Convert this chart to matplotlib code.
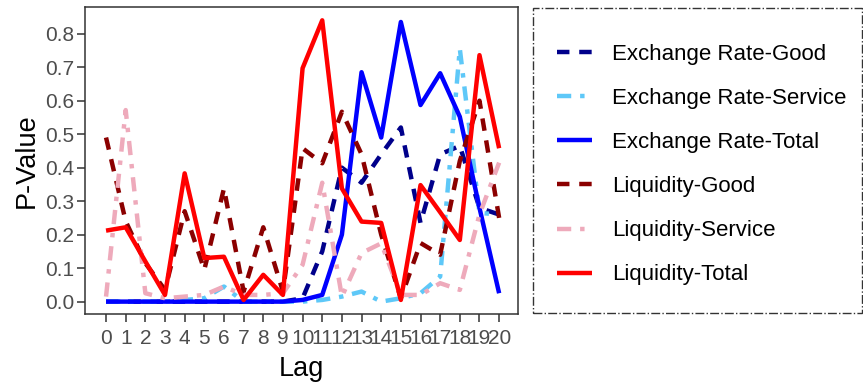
import matplotlib
matplotlib.use("Agg")
import matplotlib.pyplot as plt
from matplotlib.patches import Rectangle
import numpy as np

plt.rcParams['font.family'] = ['Liberation Sans', 'DejaVu Sans']

# values
lag = list(range(21))
er_good = [0, 0, 0, 0, 0, 0, 0, 0, 0, 0, 0.01, 0.15, 0.40, 0.355, 0.44, 0.52, 0.235, 0.44, 0.465, 0.28, 0.26]
er_service = [0, 0, 0, 0, 0.005, 0.01, 0.045, 0, 0, 0, 0, 0.005, 0.015, 0.03, 0, 0.01, 0.025, 0.075, 0.755, 0.265, 0.26]
er_total = [0, 0, 0, 0, 0, 0, 0, 0, 0, 0, 0.005, 0.02, 0.20, 0.685, 0.49, 0.835, 0.587, 0.682, 0.552, 0.28, 0.025]
liq_good = [0.49, 0.24, 0.115, 0.035, 0.27, 0.095, 0.338, 0.03, 0.222, 0.03, 0.458, 0.413, 0.567, 0.44, 0.20, 0.01, 0.175, 0.14, 0.42, 0.60, 0.25]
liq_service = [0.015, 0.572, 0.025, 0.01, 0.015, 0.02, 0.045, 0.02, 0.02, 0.025, 0.11, 0.355, 0.015, 0.145, 0.174, 0.02, 0.02, 0.055, 0.035, 0.26, 0.415]
liq_total = [0.212, 0.222, 0.12, 0.02, 0.383, 0.13, 0.134, 0.005, 0.08, 0.02, 0.697, 0.84, 0.338, 0.239, 0.235, 0.005, 0.348, 0.267, 0.184, 0.736, 0.458]

names = ['Exchange Rate-Good', 'Exchange Rate-Service', 'Exchange Rate-Total',
         'Liquidity-Good', 'Liquidity-Service', 'Liquidity-Total']
series = [er_good, er_service, er_total, liq_good, liq_service, liq_total]
colors = ['#00008B', '#5EC8F8', '#0000FF', '#8B0000', '#EEAABB', '#FF0000']
dashed = (2.8, 2.2)
dotdash = (3.2, 2.0, 1.0, 2.0)
styles = [dashed, dotdash, None, dashed, dotdash, None]

fig = plt.figure(figsize=(8.63, 3.85), dpi=100)
ax = fig.add_axes([0.0985, 0.1844, 0.5015, 0.7976])

for name, vals, col, st in zip(names, series, colors, styles):
    line, = ax.plot(lag, vals, color=col, lw=3.2, label=name,
                    solid_capstyle='butt', dash_capstyle='butt')
    if st is not None:
        line.set_dashes(st)

ax.set_xlim(-1.07, 20.95)
ax.set_ylim(-0.037, 0.88)
ax.set_xticks(lag)
ax.set_yticks(np.arange(0, 0.81, 0.1))
ax.set_yticklabels([f'{v:.1f}' for v in np.arange(0, 0.81, 0.1)])
ax.tick_params(axis='both', colors='#333333', labelcolor='#4D4D4D',
               labelsize=15, length=5.5, width=1.1, pad=2)
ax.tick_params(axis='x', pad=5)
for sp in ax.spines.values():
    sp.set_color('#333333')
    sp.set_linewidth(1.1)
ax.set_xlabel('Lag', fontsize=19.5, labelpad=6)
ax.set_ylabel('P-Value', fontsize=19.5, labelpad=4)

fig.patches.append(Rectangle((0.6176, 0.187), 0.3812, 0.792, transform=fig.transFigure,
                             fill=False, edgecolor='#333333', lw=1.0, linestyle='-.'))

handles, labels = ax.get_legend_handles_labels()
fig.legend(handles, labels, loc='upper left', bbox_to_anchor=(0.6454, 0.886),
           frameon=False, fontsize=16, handlelength=1.58, handletextpad=0.9,
           labelspacing=1.04, borderpad=0, borderaxespad=0)

fig.savefig('out.png', dpi=100)
